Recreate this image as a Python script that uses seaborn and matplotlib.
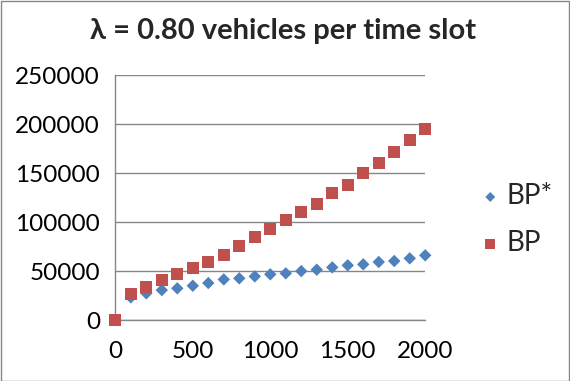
import matplotlib
matplotlib.use("Agg")
import matplotlib.pyplot as plt
import seaborn as sns
import pandas as pd
from matplotlib.patches import Rectangle

x_vals = [0, 100, 200, 300, 400, 500, 600, 700, 800, 900, 1000,
          1100, 1200, 1300, 1400, 1500, 1600, 1700, 1800, 1900, 2000]
bp_star = [0, 23200, 27300, 30600, 32400, 35000, 37800, 41500, 42600, 44600, 46700,
           47700, 50000, 51400, 53800, 55900, 56900, 59300, 60300, 63000, 66100]
bp = [0, 26200, 33400, 40600, 46700, 52800, 59300, 66100, 75600, 84500, 93000,
      101800, 110000, 118800, 129400, 137600, 149900, 160100, 171600, 183600, 194800]
series_names = ["BP*", "BP"]
title = "λ = 0.80 vehicles per time slot"
y_ticks = [0, 50000, 100000, 150000, 200000, 250000]
x_ticks = [0, 500, 1000, 1500, 2000]

df = pd.DataFrame({
    "x": x_vals * 2,
    "y": bp_star + bp,
    "s": [series_names[0]] * len(x_vals) + [series_names[1]] * len(x_vals),
})

sns.set_style("white")
plt.rcParams["font.family"] = ["Lato", "DejaVu Sans"]

fig = plt.figure(figsize=(5.7, 3.81), dpi=100)
ax = fig.add_axes([0.2023, 0.160, 0.5437, 0.6424])

palette = {"BP*": "#4F81BD", "BP": "#C0504D"}
markers = {"BP*": "D", "BP": "s"}
sizes = {"BP*": 40, "BP": 75}
for name in ["BP*", "BP"]:
    sub = df[df["s"] == name]
    sns.scatterplot(data=sub, x="x", y="y", color=palette[name], marker=markers[name],
                    s=sizes[name], edgecolor="none", ax=ax, zorder=3, clip_on=False,
                    label=name)

ax.set_xlim(0, 2000)
ax.set_ylim(0, 250000)
ax.set_xticks(x_ticks)
ax.set_yticks(y_ticks)
ax.set_xticklabels([str(t) for t in x_ticks], fontsize=17.5)
ax.set_yticklabels([str(t) for t in y_ticks], fontsize=17.5)
ax.set_xlabel("")
ax.set_ylabel("")
ax.grid(axis="y", color="#868686", linewidth=1)
ax.grid(axis="x", visible=False)
for s in ["top", "right"]:
    ax.spines[s].set_visible(False)
for s in ["left", "bottom"]:
    ax.spines[s].set_color("#868686")
    ax.spines[s].set_linewidth(1)
ax.tick_params(axis="both", which="major", direction="out", width=1,
               color="#868686", labelcolor="black")
ax.tick_params(axis="x", length=7, pad=8)
ax.tick_params(axis="y", length=6, pad=5)

leg = ax.legend(loc="center left", bbox_to_anchor=(1.08, 0.41), frameon=False,
                fontsize=20, handletextpad=0.05, labelspacing=0.75, markerscale=0.8,
                handlelength=1.1)

fig.text(0.497, 0.918, title, ha="center", va="center", fontsize=21, fontweight="bold")
fig.patches.append(Rectangle((0.001, 0.001), 0.997, 0.997, transform=fig.transFigure,
                             fill=False, edgecolor="#868686", linewidth=1))

fig.savefig("out.png", dpi=100, facecolor="white")
